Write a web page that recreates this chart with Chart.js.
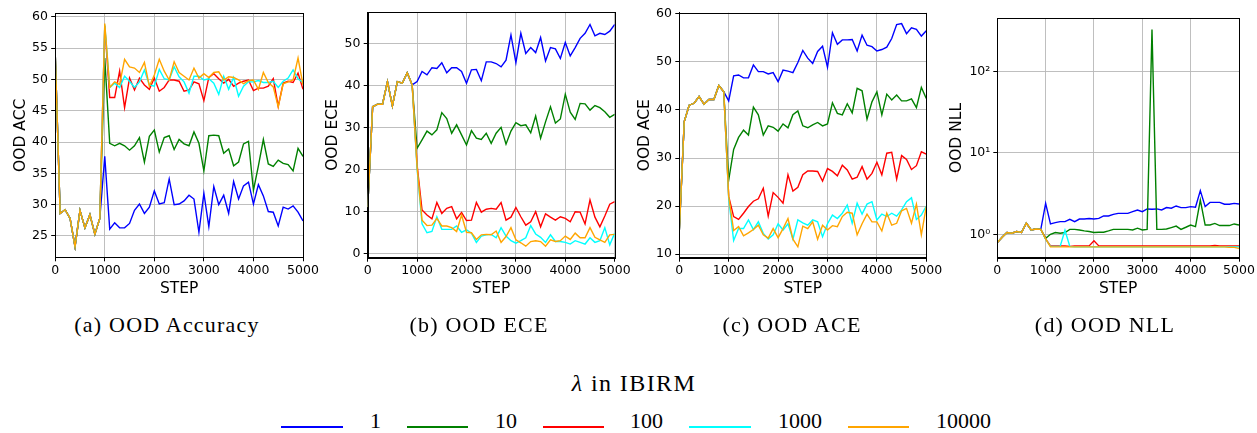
<!DOCTYPE html>
<html><head><meta charset="utf-8">
<script src="https://cdn.jsdelivr.net/npm/chart.js@4.4.1/dist/chart.umd.min.js"></script>
<style>
html,body{margin:0;padding:0;background:#fff;}
#root{position:relative;width:1257px;height:433px;overflow:hidden;background:#fff;}
canvas{position:absolute;top:0;}
.cap{position:absolute;font-family:"Liberation Serif",serif;font-size:22px;line-height:22px;color:#000;white-space:nowrap;letter-spacing:1.2px;transform:translateX(-50%);}
.ltitle{position:absolute;font-family:"Liberation Serif",serif;font-size:24px;line-height:24px;color:#000;white-space:nowrap;letter-spacing:1.4px;transform:translateX(-50%);}
.lline{position:absolute;height:1.5px;}
.llab{position:absolute;font-family:"Liberation Serif",serif;font-size:22px;line-height:22px;color:#000;white-space:nowrap;}
</style></head>
<body><div id="root">
<canvas id="cA"></canvas><canvas id="cB"></canvas><canvas id="cC"></canvas><canvas id="cD"></canvas>
<div class="cap" style="left:167px;top:314px">(a) OOD Accuracy</div>
<div class="cap" style="left:479px;top:314px">(b) OOD ECE</div>
<div class="cap" style="left:792px;top:314px">(c) OOD ACE</div>
<div class="cap" style="left:1105px;top:314px">(d) OOD NLL</div>
<div class="ltitle" style="left:634px;top:371px"><i>λ</i> in IBIRM</div>
<div id="legend"></div>
</div>
<script>
const STEPS = [0,100,200,300,400,500,600,700,800,900,1000,1100,1200,1300,1400,1500,1600,1700,1800,1900,2000,2100,2200,2300,2400,2500,2600,2700,2800,2900,3000,3100,3200,3300,3400,3500,3600,3700,3800,3900,4000,4100,4200,4300,4400,4500,4600,4700,4800,4900,5000];
const LAMBDAS = ['1','10','100','1000','10000'];
const COLORS = ['#0000ff','#008000','#ff0000','#00ffff','#ffa500'];

// (a) OOD ACC
const ACC_1 = [54.2,28.6,29.2,27.8,23.3,29.1,26.3,28.4,25.3,27.8, 37.7,26.1,27.1,26.3,26.3,27.0,29.1,30.1,28.6,29.6, 32.2,30.1,30.3,34.1,30.0,30.1,30.6,31.5,30.9,25.6, 31.8,26.5,32.9,30.0,31.5,28.6,33.7,30.9,33.0,33.6, 30.1,33.2,31.4,28.9,28.8,26.6,29.6,29.3,29.8,28.8, 27.4];
const ACC_10 = [54.2,28.6,29.2,27.8,23.3,29.1,26.3,28.4,25.3,27.8, 53.4,39.8,39.4,39.8,39.4,38.7,39.4,40.7,36.8,40.9, 41.9,38.4,40.7,41.0,38.8,40.4,39.7,39.4,41.6,39.8, 35.4,41.0,41.1,41.0,38.2,38.9,36.2,36.8,39.7,40.1, 32.3,36.2,40.4,36.5,36.1,37.1,36.6,36.4,35.4,39.0, 37.7];
const ACC_100 = [54.2,28.6,29.2,27.8,23.3,29.1,26.3,28.4,25.3,27.8, 58.5,47.1,47.1,51.3,45.5,50.2,48.3,50.2,49.1,48.4, 50.2,48.1,48.7,49.9,49.9,49.7,48.1,48.3,49.6,49.3, 46.6,50.3,50.9,50.1,49.4,50.0,48.9,49.4,49.7,49.9, 48.2,48.6,48.6,48.9,50.1,45.7,49.4,49.7,49.5,51.0, 48.4];
const ACC_1000 = [54.2,28.6,29.2,27.8,23.3,29.1,26.3,28.4,25.3,27.8, 58.7,48.7,49.4,48.7,50.5,49.7,48.7,49.6,51.5,49.1, 48.9,51.6,50.1,49.9,52.0,50.4,49.6,47.8,50.5,50.5, 49.9,50.1,49.4,47.6,50.5,48.4,50.3,47.3,48.9,49.6, 49.6,49.8,49.5,49.5,49.7,48.7,49.7,50.2,51.5,50.1, 49.5];
const ACC_10000 = [54.2,28.6,29.2,27.8,23.3,29.1,26.3,28.4,25.3,27.8, 58.9,48.7,49.6,49.2,53.2,52.0,51.8,51.1,52.7,48.9, 50.7,53.2,51.3,49.9,52.8,51.1,50.5,49.9,51.8,50.2, 50.9,50.3,51.1,51.2,49.9,50.4,50.3,49.9,49.3,49.8, 49.9,48.4,51.1,49.5,48.8,45.6,49.3,49.6,49.9,53.4, 49.1];
const ACC_TICKS = [25,30,35,40,45,50,55,60];

// (b) OOD ECE
const ECE_1 = [11.0,34.9,35.5,35.5,40.9,35.1,40.9,40.5,43.0,40.1, 40.9,43.3,42.5,44.2,44.0,45.4,43.0,44.2,44.2,43.3, 40.5,43.7,43.8,41.1,45.6,45.6,45.2,44.4,46.0,52.0, 45.4,52.4,47.6,49.0,47.8,51.4,45.8,49.0,48.7,46.4, 50.2,47.0,49.0,51.2,52.4,54.5,51.8,52.4,52.1,52.9, 54.5];
const ECE_10 = [11.0,34.9,35.5,35.5,40.9,35.1,40.9,40.5,43.0,40.1, 25.0,27.0,29.1,28.2,29.4,33.5,32.1,28.6,30.6,28.2, 25.8,29.2,27.4,27.1,28.6,26.2,28.6,30.0,26.0,29.1, 31.1,30.4,30.6,28.7,32.7,27.4,31.3,34.9,31.0,32.0, 37.9,33.6,31.9,35.7,35.6,34.1,35.2,34.7,33.7,32.4, 33.1];
const ECE_100 = [11.0,34.9,35.5,35.5,40.9,35.1,40.9,40.5,43.0,40.1, 21.0,10.3,9.1,8.2,12.1,9.5,10.7,11.1,8.2,9.7, 7.8,7.9,12.1,9.8,10.5,10.7,10.5,12.1,7.9,8.6, 10.9,8.7,6.7,7.5,9.9,6.3,9.4,8.6,7.9,8.7, 8.3,7.5,9.9,9.8,7.0,12.7,8.6,6.3,8.9,11.7, 12.3];
const ECE_1000 = [11.0,34.9,35.5,35.5,40.9,35.1,40.9,40.5,43.0,40.1, 20.0,7.0,4.9,5.2,8.7,5.7,5.7,5.7,6.5,5.0, 5.6,4.8,2.6,4.1,4.4,4.5,3.7,6.1,4.1,3.0, 2.4,3.0,3.7,6.6,4.6,3.8,2.6,4.4,2.8,2.8, 2.6,2.2,3.0,2.6,2.2,3.7,2.6,3.0,6.1,2.0, 4.8];
const ECE_10000 = [11.0,34.9,35.5,35.5,40.9,35.1,40.9,40.5,43.0,40.1, 20.5,7.9,6.6,6.7,8.3,6.5,6.5,6.1,5.2,9.1, 5.0,4.9,3.3,4.4,4.5,4.4,5.3,2.6,4.0,6.1, 3.2,2.5,1.7,2.8,3.0,2.8,1.7,3.2,2.8,3.0, 4.1,3.3,4.8,3.7,3.7,6.1,3.8,3.2,2.6,4.4, 4.5];
const ECE_TICKS = [0,10,20,30,40,50];

// (c) OOD ACE
const ACE_1 = [14.8,37.6,41.0,41.4,42.8,41.2,42.2,42.2,45.1,43.8, 41.9,47.1,47.3,46.7,46.7,49.4,48.0,48.0,47.5,47.8, 45.9,48.3,48.1,47.8,49.9,52.4,50.8,49.7,52.2,53.3, 48.9,56.1,53.7,54.6,54.6,54.7,52.3,55.6,53.5,53.2, 52.3,52.6,53.1,54.9,57.8,58.0,55.9,57.1,56.8,55.4, 56.5];
const ACE_10 = [14.8,37.6,41.0,41.4,42.8,41.2,42.2,42.2,45.1,43.8, 25.4,31.8,34.3,35.8,34.8,40.6,39.0,34.8,36.7,36.4, 35.6,37.1,36.3,39.0,39.8,36.7,36.3,36.9,37.4,36.7, 37.1,41.5,39.3,39.0,41.3,39.4,44.5,44.0,38.1,41.7, 43.8,39.0,43.3,42.1,43.1,41.9,41.9,42.3,40.5,44.7, 42.4];
const ACE_100 = [14.8,37.6,41.0,41.4,42.8,41.2,42.2,42.2,45.1,43.8, 22.0,17.8,17.2,18.5,19.9,21.0,21.5,23.7,17.9,22.8, 21.8,20.6,26.5,23.1,23.9,26.5,27.3,27.3,27.2,25.2, 27.8,27.2,26.3,28.5,27.5,25.6,26.0,28.2,25.6,26.8, 29.1,26.5,31.0,31.2,25.6,30.5,29.7,27.6,28.4,31.3, 30.8];
const ACE_1000 = [14.8,37.6,41.0,41.4,42.8,41.2,42.2,42.2,45.1,43.8, 21.5,12.8,15.3,15.3,17.1,15.1,16.7,14.3,13.1,14.0, 16.3,15.0,16.3,13.1,17.1,16.5,16.0,17.1,16.7,13.6, 16.3,18.1,17.4,18.5,20.2,16.4,20.6,18.3,20.4,20.9, 17.1,18.3,17.8,18.5,17.9,19.2,20.9,21.7,17.2,18.1, 20.0];
const ACE_10000 = [14.8,37.6,41.0,41.4,42.8,41.2,42.2,42.2,45.1,43.8, 22.0,14.9,15.7,13.8,14.4,15.1,16.0,14.0,13.3,15.3, 13.4,15.3,17.4,13.1,11.5,15.8,15.3,16.7,13.1,16.0, 15.0,15.9,15.7,17.8,18.7,18.5,14.0,16.3,18.3,16.7, 16.7,14.8,18.5,16.0,16.4,19.0,19.5,16.4,20.4,14.0, 19.9];
const ACE_TICKS = [10,20,30,40,50,60];

// (d) OOD NLL (log scale)
const NLL_1 = [0.79,0.92,1.05,1.03,1.08,1.05,1.37,1.13,1.16,1.15, 2.40,1.34,1.39,1.43,1.43,1.53,1.43,1.54,1.54,1.56, 1.54,1.57,1.68,1.68,1.76,1.81,1.81,1.81,1.90,1.99, 1.90,2.05,2.03,2.05,1.99,2.13,2.09,2.23,2.13,2.13, 2.19,2.15,3.44,2.19,2.47,2.47,2.47,2.34,2.34,2.40, 2.36];
const NLL_10 = [0.79,0.92,1.05,1.03,1.08,1.05,1.37,1.13,1.16,1.15, 0.89,1.00,1.05,1.03,1.05,1.15,1.15,1.13,1.10,1.08, 1.05,1.06,1.06,1.10,1.15,1.15,1.15,1.15,1.13,1.19, 1.13,1.15,331,1.15,1.15,1.16,1.21,1.26,1.15,1.22, 1.30,1.24,2.64,1.30,1.30,1.36,1.28,1.28,1.28,1.34, 1.30];
const NLL_100 = [0.79,0.92,1.05,1.03,1.08,1.05,1.37,1.13,1.16,1.15, 0.88,0.72,0.72,0.72,0.72,0.71,0.72,0.72,0.72,0.72, 0.83,0.72,0.72,0.72,0.72,0.72,0.72,0.72,0.72,0.72, 0.72,0.72,0.72,0.72,0.72,0.72,0.72,0.72,0.72,0.72, 0.72,0.72,0.72,0.72,0.72,0.73,0.72,0.72,0.72,0.72, 0.72];
const NLL_1000 = [0.79,0.92,1.05,1.03,1.08,1.05,1.37,1.13,1.16,1.15, 0.87,0.71,0.71,0.71,1.12,0.71,0.70,0.70,0.70,0.70, 0.70,0.70,0.70,0.70,0.70,0.70,0.70,0.70,0.70,0.70, 0.70,0.70,0.70,0.70,0.70,0.70,0.70,0.70,0.70,0.70, 0.70,0.70,0.70,0.70,0.70,0.70,0.70,0.70,0.70,0.70, 0.70];
const NLL_10000 = [0.79,0.92,1.05,1.03,1.08,1.05,1.37,1.13,1.16,1.15, 0.88,0.70,0.70,0.70,0.70,0.70,0.70,0.70,0.70,0.70, 0.70,0.70,0.70,0.70,0.70,0.70,0.70,0.70,0.70,0.70, 0.70,0.70,0.70,0.70,0.70,0.70,0.70,0.70,0.70,0.70, 0.70,0.70,0.70,0.70,0.70,0.70,0.70,0.70,0.69,0.69, 0.67];
const NLL_TICKS = [1,10,100];
const X_TICKS = [0,1000,2000,3000,4000,5000];

const SUP = {'-':'⁻','0':'⁰','1':'¹','2':'²','3':'³','4':'⁴','5':'⁵','6':'⁶','7':'⁷','8':'⁸','9':'⁹'};

const frame = {
  id:'frame',
  afterDraw(chart){
    const {ctx, chartArea:a} = chart;
    ctx.save();
    ctx.strokeStyle = '#000'; ctx.lineWidth = 1;
    const l = Math.round(a.left)+0.5, t = Math.round(a.top)+0.5;
    const r = Math.round(a.right)+0.5, b = Math.round(a.bottom)+0.5;
    ctx.strokeRect(l, t, r-l, b-t);
    ctx.restore();
  }
};

function panel(id, spec){
  const cv = document.getElementById(id);
  cv.width = spec.w; cv.height = 300;
  cv.style.left = spec.left+'px'; cv.style.width = spec.w+'px'; cv.style.height='300px';
  const datasets = spec.series.map((vals,i)=>({
    label: LAMBDAS[i],
    data: vals.map((v,j)=>({x:STEPS[j], y:v})),
    borderColor: COLORS[i], backgroundColor: COLORS[i],
    borderWidth: 1.4, pointRadius: 0, tension: 0, fill:false,
    order: 4-i
  }));
  const tickFont = {family:'DejaVu Sans', size:12.5};
  const titleFont = {family:'DejaVu Sans', size:15.5};
  const yScale = {
    type: spec.log ? 'logarithmic' : 'linear',
    min: spec.yMin, max: spec.yMax,
    afterBuildTicks: s => { s.ticks = spec.yTicks.map(v=>({value:v})); },
    afterFit: s => { s.width = spec.yW; },
    ticks: {
      font: tickFont, color:'#000', padding: spec.log ? 3 : 3.3, autoSkip:false,
      callback: v => spec.log ? '10' + String(Math.round(Math.log10(v))).split('').map(c=>SUP[c]).join('') : String(v)
    },
    grid: {color:'#b8b8b8', lineWidth:0.9, tickColor:'#000', tickLength:4, tickWidth:1},
    border: {display:true, color:'#000', width:1},
    title: {display:true, text: spec.title, font: titleFont, color:'#000', padding:{top: spec.ytPad, bottom:0}}
  };
  const xScale = {
    type:'linear', min:0, max:5000,
    afterBuildTicks: s => { s.ticks = X_TICKS.map(v=>({value:v})); },
    afterFit: s => { s.height = 300 - spec.bottom; },
    ticks: {font: tickFont, color:'#000', padding:1.5, autoSkip:false, maxRotation:0, callback: v => String(v)},
    grid: {color:'#b8b8b8', lineWidth:0.9, tickColor:'#000', tickLength:4, tickWidth:1},
    border: {display:true, color:'#000', width:1},
    title: {display:true, text:'STEP', font: titleFont, color:'#000', padding:{top:0, bottom:1.3}}
  };
  return new Chart(cv, {
    type:'line',
    data:{datasets},
    options:{
      responsive:false, animation:false, devicePixelRatio:1,
      layout:{padding:{left:0, top: spec.top, right: spec.w - spec.right + spec.left, bottom:0}},
      plugins:{legend:{display:false}, tooltip:{enabled:false}},
      scales:{x:xScale, y:yScale}
    },
    plugins:[frame]
  });
}

panel('cA', {left:0, w:323, yW:55.2, top:13.3, bottom:257.3, right:303.0, yMin:21.6, yMax:60.54, yTicks:ACC_TICKS, title:'OOD ACC', ytPad:11.4,
  series:[ACC_1,ACC_10,ACC_100,ACC_1000,ACC_10000]});
panel('cB', {left:320, w:315, yW:47.7, top:12.3, bottom:257.7, right:614.7, yMin:-1.05, yMax:57.4, yTicks:ECE_TICKS, title:'OOD ECE', ytPad:4.0,
  series:[ECE_1,ECE_10,ECE_100,ECE_1000,ECE_10000]});
panel('cC', {left:632, w:315, yW:47.3, top:12.7, bottom:257.7, right:926.3, yMin:9.23, yMax:60.27, yTicks:ACE_TICKS, title:'OOD ACE', ytPad:3.7,
  series:[ACE_1,ACE_10,ACE_100,ACE_1000,ACE_10000]});
panel('cD', {left:945, w:312, yW:52.3, top:18.3, bottom:257.7, right:1239.0, yMin:0.515, yMax:454, yTicks:NLL_TICKS, title:'OOD NLL', ytPad:2.4, log:true,
  series:[NLL_1,NLL_10,NLL_100,NLL_1000,NLL_10000]});

// legend (HTML)
const LEG_LINE_X = [281,406.7,542.7,689,847.5];
const LEG_LAB_X = [370,495,630,778,936];
const leg = document.getElementById('legend');
LAMBDAS.forEach((lab,i)=>{
  const ln = document.createElement('div');
  ln.className='lline';
  ln.style.left = LEG_LINE_X[i]+'px'; ln.style.top='426px'; ln.style.width='61.5px'; ln.style.background=COLORS[i];
  leg.appendChild(ln);
  const tx = document.createElement('div');
  tx.className='llab'; tx.textContent = lab;
  tx.style.left = LEG_LAB_X[i]+'px'; tx.style.top='410px';
  leg.appendChild(tx);
});
</script>
</body></html>
